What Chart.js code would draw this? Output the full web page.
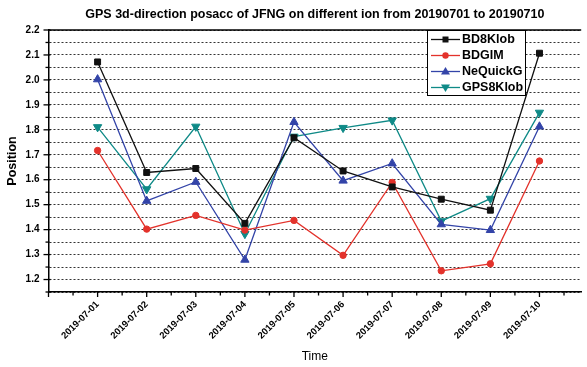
<!DOCTYPE html>
<html>
<head>
<meta charset="utf-8">
<script src="https://cdn.jsdelivr.net/npm/chart.js"></script>
<style>
  body { margin: 0; background: #fff; overflow: hidden; }
</style>
</head>
<body>
<canvas id="myChart" width="587" height="367"></canvas>
<script>
const dates = ['2019-07-01', '2019-07-02', '2019-07-03', '2019-07-04', '2019-07-05',
               '2019-07-06', '2019-07-07', '2019-07-08', '2019-07-09', '2019-07-10'];

const bd8klob  = [2.072, 1.629, 1.645, 1.425, 1.768, 1.635, 1.571, 1.522, 1.478, 2.107];
const bdgim    = [1.717, 1.402, 1.457, 1.398, 1.437, 1.297, 1.589, 1.235, 1.263, 1.675];
const nequickg = [2.002, 1.515, 1.591, 1.279, 1.831, 1.596, 1.665, 1.421, 1.398, 1.813];
const gps8klob = [1.811, 1.562, 1.813, 1.383, 1.773, 1.808, 1.838, 1.434, 1.524, 1.869];

const yTicks = [1.2, 1.3, 1.4, 1.5, 1.6, 1.7, 1.8, 1.9, 2.0, 2.1, 2.2];

const titleText = 'GPS 3d-direction posacc of JFNG on different ion from 20190701 to 20190710';

function points(values) {
  return values.map((v, i) => ({ x: i + 1, y: v }));
}

function series(label, values, color, style, rotation, radius) {
  return {
    label: label,
    data: points(values),
    borderColor: color,
    backgroundColor: color,
    borderWidth: 1.3,
    pointStyle: style,
    rotation: rotation,
    pointRadius: radius,
    pointHoverRadius: radius,
    pointBorderWidth: 1,
    tension: 0
  };
}

// frame, tick marks, title and the boxed legend
const decor = {
  id: 'decor',
  afterDraw(chart) {
    const ctx = chart.ctx;
    const area = chart.chartArea;
    const xs = chart.scales.x;
    const ys = chart.scales.y;
    ctx.save();
    ctx.strokeStyle = '#000';
    ctx.lineWidth = 1.5;
    ctx.beginPath();
    ctx.moveTo(area.left, area.top);
    ctx.lineTo(area.right, area.top);
    ctx.stroke();

    ctx.lineWidth = 1.3;
    xs.ticks.forEach(t => {
      const px = xs.getPixelForValue(t.value);
      const len = Number.isInteger(t.value) ? 5 : 3.5;
      ctx.beginPath();
      ctx.moveTo(px, area.bottom);
      ctx.lineTo(px, area.bottom + len);
      ctx.stroke();
    });
    ys.ticks.forEach(t => {
      const py = ys.getPixelForValue(t.value);
      const major = Math.round(t.value * 100) % 10 === 0;
      ctx.beginPath();
      ctx.moveTo(area.left - (major ? 5 : 3), py);
      ctx.lineTo(area.left + (major ? 2 : 1), py);
      ctx.stroke();
    });

    ctx.fillStyle = '#000';
    ctx.font = 'bold 12.5px "Liberation Sans", Arial, sans-serif';
    ctx.textAlign = 'center';
    ctx.textBaseline = 'middle';
    ctx.fillText(titleText, (area.left + area.right) / 2, 15);

    // legend box
    const bx = 427, by = area.top, bw = 98, bh = 65;
    ctx.fillStyle = '#fff';
    ctx.fillRect(bx, by, bw, bh);
    ctx.strokeStyle = '#000';
    ctx.lineWidth = 1;
    ctx.strokeRect(bx + 0.5, by + 0.5, bw, bh);
    chart.data.datasets.forEach((ds, i) => {
      const cy = by + 9.5 + i * 16;
      ctx.strokeStyle = ds.borderColor;
      ctx.fillStyle = ds.borderColor;
      ctx.lineWidth = 1.3;
      ctx.beginPath();
      ctx.moveTo(bx + 4, cy);
      ctx.lineTo(bx + 33, cy);
      ctx.stroke();
      const mx = bx + 18.5;
      ctx.beginPath();
      if (ds.pointStyle === 'rect') {
        ctx.rect(mx - 3, cy - 3, 6, 6);
      } else if (ds.pointStyle === 'circle') {
        ctx.arc(mx, cy, 3.2, 0, Math.PI * 2);
      } else if (ds.rotation === 180) {
        ctx.moveTo(mx - 4.5, cy - 3);
        ctx.lineTo(mx + 4.5, cy - 3);
        ctx.lineTo(mx, cy + 4.5);
      } else {
        ctx.moveTo(mx - 4.5, cy + 3);
        ctx.lineTo(mx + 4.5, cy + 3);
        ctx.lineTo(mx, cy - 4.5);
      }
      ctx.closePath();
      ctx.fill();
      ctx.fillStyle = '#000';
      ctx.font = 'bold 12.5px "Liberation Sans", Arial, sans-serif';
      ctx.textAlign = 'left';
      ctx.fillText(ds.label, bx + 35, cy + 0.5);
    });
    ctx.restore();
  }
};

const config = {
  type: 'line',
  data: {
    datasets: [
      series('BD8Klob', bd8klob, '#111111', 'rect', 0, 4.2),
      series('BDGIM', bdgim, '#e3322b', 'circle', 0, 3.2),
      series('NeQuickG', nequickg, '#3344a8', 'triangle', 0, 4.8),
      series('GPS8Klob', gps8klob, '#0f8a87', 'triangle', 180, 4.8)
    ]
  },
  options: {
    responsive: false,
    animation: false,
    layout: { padding: { top: 30, right: 0, left: 0, bottom: 0 } },
    plugins: {
      legend: { display: false },
      title: { display: false },
      tooltip: { enabled: false }
    },
    scales: {
      x: {
        type: 'linear',
        min: 0,
        max: 10.85,
        afterFit: s => { s.height = 75; },
        grid: { drawOnChartArea: false, drawTicks: false },
        border: { display: true, color: '#000', width: 1.5 },
        ticks: {
          stepSize: 0.5,
          autoSkip: false,
          includeBounds: false,
          maxRotation: 45,
          minRotation: 45,
          padding: 7,
          color: '#000',
          font: { family: '"Liberation Sans", Arial, sans-serif', size: 9.5, weight: 'bold' },
          callback: v => (Number.isInteger(v) && v >= 1 && v <= dates.length) ? dates[v - 1] : ''
        },
        title: {
          display: true,
          text: 'Time',
          color: '#000',
          padding: { top: 0, bottom: 3 },
          font: { family: '"Liberation Sans", Arial, sans-serif', size: 12 }
        }
      },
      y: {
        min: 1.15,
        max: 2.2,
        afterFit: s => { s.width = 48.5; },
        grid: {
          drawTicks: false,
          color: '#333',
          lineWidth: 1
        },
        border: { display: true, color: '#000', width: 1.5, dash: [2, 2] },
        ticks: {
          stepSize: 0.05,
          autoSkip: false,
          padding: 9,
          color: '#000',
          font: { family: '"Liberation Sans", Arial, sans-serif', size: 10, weight: 'bold' },
          callback: v => {
            const hit = yTicks.find(t => Math.abs(t - v) < 1e-6);
            return hit !== undefined ? hit.toFixed(1) : '';
          }
        },
        title: {
          display: true,
          text: 'Position',
          color: '#000',
          padding: { top: 5, bottom: 0 },
          font: { family: '"Liberation Sans", Arial, sans-serif', size: 12.5, weight: 'bold' }
        }
      }
    }
  },
  plugins: [decor]
};

var myChart = new Chart(document.getElementById('myChart'), config);
</script>
</body>
</html>
